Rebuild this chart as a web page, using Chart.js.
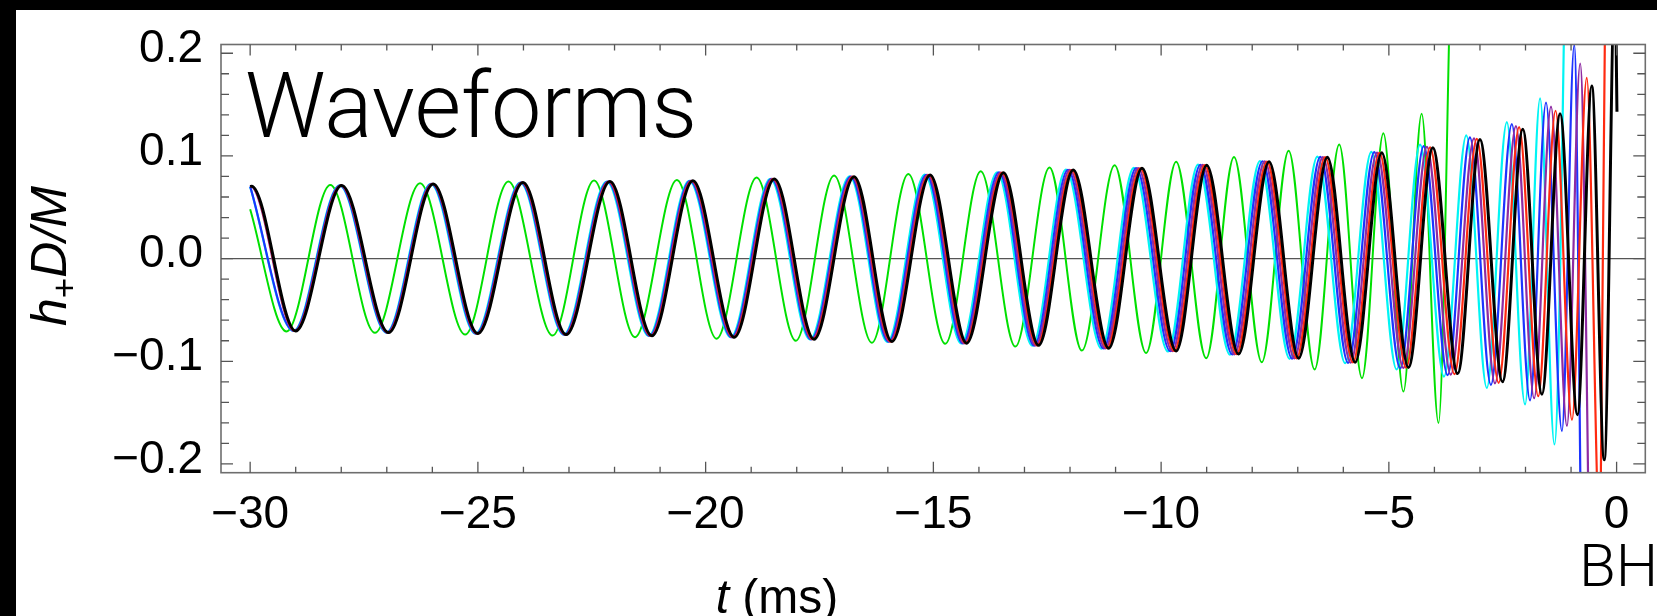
<!DOCTYPE html>
<html><head><meta charset="utf-8">
<script src="https://cdn.jsdelivr.net/npm/chart.js@4.4.1/dist/chart.umd.min.js"></script>
<style>
html,body{margin:0;padding:0;background:#000;width:1657px;height:616px;overflow:hidden;}
#wrap{position:absolute;left:16px;top:10px;width:1641px;height:606px;background:#fff;}
canvas{display:block;}
</style></head><body>
<div id="wrap"><canvas id="c" width="1641" height="606"></canvas></div>
<script>
// ---- axis ticks / ranges ----
const xMajorTicks = [-30, -25, -20, -15, -10, -5, 0];
const yMajorTicks = [-0.2, -0.1, 0.0, 0.1, 0.2];
const xRange = [-30.64, 0.63];
const yRange = [-0.2085, 0.2085];

// ---- series: [t (ms), h+ D/M] at extrema ----
const green = [[-30,0.048],[-29.20,-0.0710],[-28.24,0.0717],[-27.26,-0.0722],[-26.27,0.0733],[-25.28,-0.0740],
[-24.33,0.0750],[-23.36,-0.0750],[-22.45,0.0760],[-21.55,-0.0765],[-20.63,0.0766],[-19.76,-0.0780],[-18.88,0.0790],
[-18.02,-0.0800],[-17.18,0.0810],[-16.35,-0.0820],[-15.55,0.0824],[-14.74,-0.0830],[-13.96,0.0850],[-13.20,-0.0857],
[-12.45,0.0886],[-11.74,-0.0896],[-11.02,0.0910],[-10.33,-0.0920],[-9.67,0.0944],[-9.01,-0.0970],[-8.40,0.0990],
[-7.79,-0.1010],[-7.20,0.1050],[-6.63,-0.1080],[-6.09,0.1110],[-5.59,-0.1165],[-5.12,0.1220],[-4.68,-0.1295],
[-4.28,0.1410],[-3.91,-0.1600],[-3.62,0.3300]];

const cyan = [[-30,0.0700],[-29.05,-0.0705],[-28.04,0.0712],[-27.01,-0.0720],[-26.035,0.0727],[-25.055,-0.0730],
[-24.07,0.0740],[-23.12,-0.0740],[-22.17,0.0750],[-21.25,-0.0752],[-20.36,0.0757],[-19.45,-0.0766],[-18.58,0.0777],
[-17.71,-0.0786],[-16.84,0.0800],[-16.01,-0.0810],[-15.19,0.0817],[-14.39,-0.0826],[-13.60,0.0840],[-12.83,-0.0848],
[-12.09,0.0866],[-11.31,-0.0876],[-10.60,0.0884],[-9.85,-0.0904],[-9.19,0.0915],[-8.49,-0.0935],[-7.83,0.0950],
[-7.18,-0.0976],[-6.57,0.0994],[-5.96,-0.1018],[-5.385,0.1040],[-4.83,-0.1080],[-4.315,0.1110],[-3.79,-0.1150],
[-3.30,0.1200],[-2.85,-0.1260],[-2.41,0.1330],[-2.01,-0.1420],[-1.68,0.1560],[-1.365,-0.1810],[-1.02,0.6000]];

const blue = [[-30,0.0702],[-29.04,-0.0705],[-28.03,0.0712],[-27.00,-0.0720],[-26.02,0.0727],[-25.04,-0.0730],
[-24.055,0.0740],[-23.105,-0.0740],[-22.15,0.0750],[-21.23,-0.0752],[-20.34,0.0757],[-19.43,-0.0766],[-18.555,0.0777],
[-17.685,-0.0786],[-16.815,0.0799],[-15.985,-0.0809],[-15.155,0.0816],[-14.355,-0.0825],[-13.56,0.0839],[-12.79,-0.0847],
[-12.045,0.0865],[-11.265,-0.0875],[-10.55,0.0882],[-9.80,-0.0902],[-9.14,0.0913],[-8.44,-0.0933],[-7.775,0.0948],
[-7.125,-0.0974],[-6.505,0.0991],[-5.895,-0.1015],[-5.32,0.1036],[-4.75,-0.1070],[-4.235,0.1095],[-3.71,-0.1135],
[-3.22,0.1180],[-2.76,-0.1230],[-2.30,0.1310],[-1.90,-0.1380],[-1.55,0.1520],[-1.20,-0.1680],[-0.93,0.2080],[-0.74,-0.4500]];

const purple = [[-30,0.0704],[-29.995,0.0705],[-29.025,-0.0705],[-28.015,0.0712],[-26.985,-0.0720],[-26.005,0.0727],[-25.025,-0.0730],
[-24.04,0.0740],[-23.09,-0.0740],[-22.135,0.0750],[-21.215,-0.0752],[-20.32,0.0757],[-19.41,-0.0766],[-18.535,0.0776],
[-17.665,-0.0785],[-16.79,0.0798],[-15.96,-0.0808],[-15.125,0.0816],[-14.325,-0.0825],[-13.525,0.0838],[-12.755,-0.0846],
[-12.005,0.0864],[-11.225,-0.0874],[-10.505,0.0881],[-9.755,-0.0901],[-9.09,0.0912],[-8.39,-0.0932],[-7.725,0.0946],
[-7.075,-0.0972],[-6.45,0.0989],[-5.84,-0.1013],[-5.26,0.1033],[-4.68,-0.1065],[-4.165,0.1088],[-3.64,-0.1130],
[-3.13,0.1170],[-2.67,-0.1215],[-2.21,0.1290],[-1.81,-0.1360],[-1.44,0.1480],[-1.09,-0.1630],[-0.80,0.1900],[-0.55,-0.4500]];

const red = [[-30,0.0703],[-29.982,0.0705],[-29.012,-0.0705],[-28.002,0.0712],[-26.972,-0.0720],[-25.992,0.0727],[-25.012,-0.0730],
[-24.025,0.0740],[-23.075,-0.0740],[-22.118,0.0750],[-21.198,-0.0752],[-20.30,0.0757],[-19.39,-0.0766],[-18.512,0.0776],
[-17.642,-0.0785],[-16.765,0.0798],[-15.935,-0.0808],[-15.098,0.0815],[-14.298,-0.0824],[-13.492,0.0837],[-12.722,-0.0845],
[-11.967,0.0863],[-11.187,-0.0873],[-10.462,0.0880],[-9.712,-0.0900],[-9.045,0.0911],[-8.345,-0.0931],[-7.677,0.0945],
[-7.027,-0.0971],[-6.40,0.0988],[-5.79,-0.1011],[-5.207,0.1031],[-4.62,-0.1062],[-4.095,0.1083],[-3.56,-0.1125],
[-3.07,0.1165],[-2.59,-0.1210],[-2.14,0.1280],[-1.72,-0.1340],[-1.34,0.1440],[-0.98,-0.1570],[-0.655,0.1760],
[-0.36,-0.2800],[-0.18,0.7000]];

const black = [[-30,0.0702],[-29.97,0.0705],[-29.0,-0.0705],[-27.99,0.0712],[-26.96,-0.0720],[-25.98,0.0727],[-25.0,-0.0730],
[-24.01,0.0740],[-23.06,-0.0740],[-22.10,0.0750],[-21.18,-0.0752],[-20.28,0.0757],[-19.37,-0.0766],[-18.49,0.0776],
[-17.62,-0.0785],[-16.74,0.0798],[-15.91,-0.0808],[-15.07,0.0815],[-14.27,-0.0824],[-13.46,0.0837],[-12.69,-0.0845],
[-11.93,0.0863],[-11.15,-0.0873],[-10.42,0.0880],[-9.67,-0.0900],[-9.00,0.0910],[-8.30,-0.0930],[-7.63,0.0944],
[-6.98,-0.0970],[-6.35,0.0987],[-5.74,-0.1010],[-5.155,0.1030],[-4.57,-0.1060],[-4.035,0.1080],[-3.49,-0.1120],
[-3.00,0.1160],[-2.505,-0.1200],[-2.06,0.1260],[-1.64,-0.1320],[-1.24,0.1410],[-0.86,-0.1520],[-0.545,0.1680],
[-0.27,-0.1960],[-0.035,0.2720],[0.008,0.1430]];

// drawing order: first = on top
const seriesList = [
  {name:'black',  data:black,  color:'#000000', width:3.0},
  {name:'red',    data:red,    color:'#ff2a10', width:2.2},
  {name:'purple', data:purple, color:'#8e2ba2', width:2.2},
  {name:'blue',   data:blue,   color:'#1c34ff', width:2.2},
  {name:'cyan',   data:cyan,   color:'#00f4f4', width:2.2},
  {name:'green',  data:green,  color:'#00e000', width:2.0}
];

const FONT = "'Liberation Sans', Arial, sans-serif";
const LIGHT = "Roboto, Lato, 'Liberation Sans', sans-serif";
const minus = v => (v < 0 ? '\u2212' : '');

const framePlugin = {
  id:'frame',
  beforeDatasetsDraw(chart){
    const {ctx, chartArea:a, scales} = chart;
    const y0 = scales.y.getPixelForValue(0);
    ctx.save();
    ctx.strokeStyle = '#555'; ctx.lineWidth = 1.4;
    ctx.beginPath(); ctx.moveTo(a.left, y0); ctx.lineTo(a.right, y0); ctx.stroke();
    ctx.restore();
  },
  afterDatasetsDraw(chart){
    const {ctx, chartArea:a, scales} = chart;
    ctx.save();
    ctx.strokeStyle = '#6e6e6e'; ctx.lineWidth = 1.6;
    ctx.strokeRect(a.left, a.top, a.right - a.left, a.bottom - a.top);
    ctx.strokeStyle = '#555'; ctx.lineWidth = 1.3;
    ctx.beginPath();
    for (let v = xMajorTicks[0]; v <= xMajorTicks[xMajorTicks.length-1]; v += 1) {
      const px = scales.x.getPixelForValue(v);
      const len = xMajorTicks.includes(v) ? 11 : 6;
      ctx.moveTo(px, a.bottom); ctx.lineTo(px, a.bottom - len);
      ctx.moveTo(px, a.top); ctx.lineTo(px, a.top + len);
    }
    for (let i = -10; i <= 10; i++) {
      const v = i * 0.02;
      const py = scales.y.getPixelForValue(v);
      const len = (i % 5 === 0) ? 12 : 8;
      ctx.moveTo(a.left, py); ctx.lineTo(a.left + len, py);
      ctx.moveTo(a.right, py); ctx.lineTo(a.right - len, py);
    }
    ctx.stroke();
    ctx.restore();
  },
  afterDraw(chart){
    const ctx = chart.ctx;
    ctx.save();
    ctx.fillStyle = '#000';
    ctx.textBaseline = 'alphabetic';
    ctx.textAlign = 'left';
    // panel label
    ctx.font = '300 90px ' + LIGHT;
    ctx.fillText('Waveforms', 229, 127);
    // BH marker
    ctx.font = '300 60px ' + LIGHT;
    ctx.fillText('BH', 1563, 576);
    // x title: t (ms)
    const f1 = 'italic 48px ' + FONT, f2 = '48px ' + FONT;
    ctx.font = f1; const wT = ctx.measureText('t').width;
    ctx.font = f2; const wR = ctx.measureText(' (ms)').width;
    let x0 = 761 - (wT + wR) / 2;
    ctx.font = f1; ctx.fillText('t', x0, 603);
    ctx.font = f2; ctx.fillText(' (ms)', x0 + wT, 603);
    // y title: h+ D/M (rotated)
    ctx.translate(50, 246);
    ctx.rotate(-Math.PI / 2);
    const parts = [
      {t:'h', f:'italic 50px ' + FONT, dy:0},
      {t:'+', f:'35px ' + FONT, dy:10},
      {t:'D/M', f:'italic 50px ' + FONT, dy:0}
    ];
    let total = 0;
    parts.forEach(p => { ctx.font = p.f; p.w = ctx.measureText(p.t).width; total += p.w; });
    let cx = -total / 2;
    parts.forEach(p => { ctx.font = p.f; ctx.fillText(p.t, cx, p.dy); cx += p.w; });
    ctx.restore();
  }
};

function noPad(s){ s.paddingTop = 0; s.paddingBottom = 0; s.paddingLeft = 0; s.paddingRight = 0; }

new Chart(document.getElementById('c'), {
  type:'line',
  data:{
    datasets: seriesList.map(s => ({
      label:s.name,
      data:s.data.map(p => ({x:p[0], y:p[1]})),
      borderColor:s.color,
      borderWidth:s.width,
      pointRadius:0,
      fill:false,
      cubicInterpolationMode:'monotone',
      clip:0
    }))
  },
  options:{
    responsive:false, animation:false, devicePixelRatio:1,
    layout:{padding:{left:0, right:11.7, top:34.5, bottom:0}},
    plugins:{legend:{display:false}, tooltip:{enabled:false}},
    events:[],
    scales:{
      x:{
        type:'linear', min:xRange[0], max:xRange[1],
        afterFit(s){ s.height = 143.3; noPad(s); },
        afterBuildTicks(s){ s.ticks = xMajorTicks.map(v => ({value:v})); },
        grid:{display:false, drawTicks:false}, border:{display:false},
        ticks:{font:{family:FONT, size:46}, color:'#000', padding:15, maxRotation:0, autoSkip:false,
          callback:v => minus(v) + Math.abs(v)}
      },
      y:{
        type:'linear', min:yRange[0], max:yRange[1],
        afterFit(s){ s.width = 205; noPad(s); },
        afterBuildTicks(s){ s.ticks = yMajorTicks.map(v => ({value:v})); },
        grid:{display:false, drawTicks:false}, border:{display:false},
        ticks:{font:{family:FONT, size:46}, color:'#000', padding:18, labelOffset:-4, autoSkip:false,
          callback:v => minus(v) + Math.abs(v).toFixed(1)}
      }
    }
  },
  plugins:[framePlugin]
});
</script>
</body></html>
